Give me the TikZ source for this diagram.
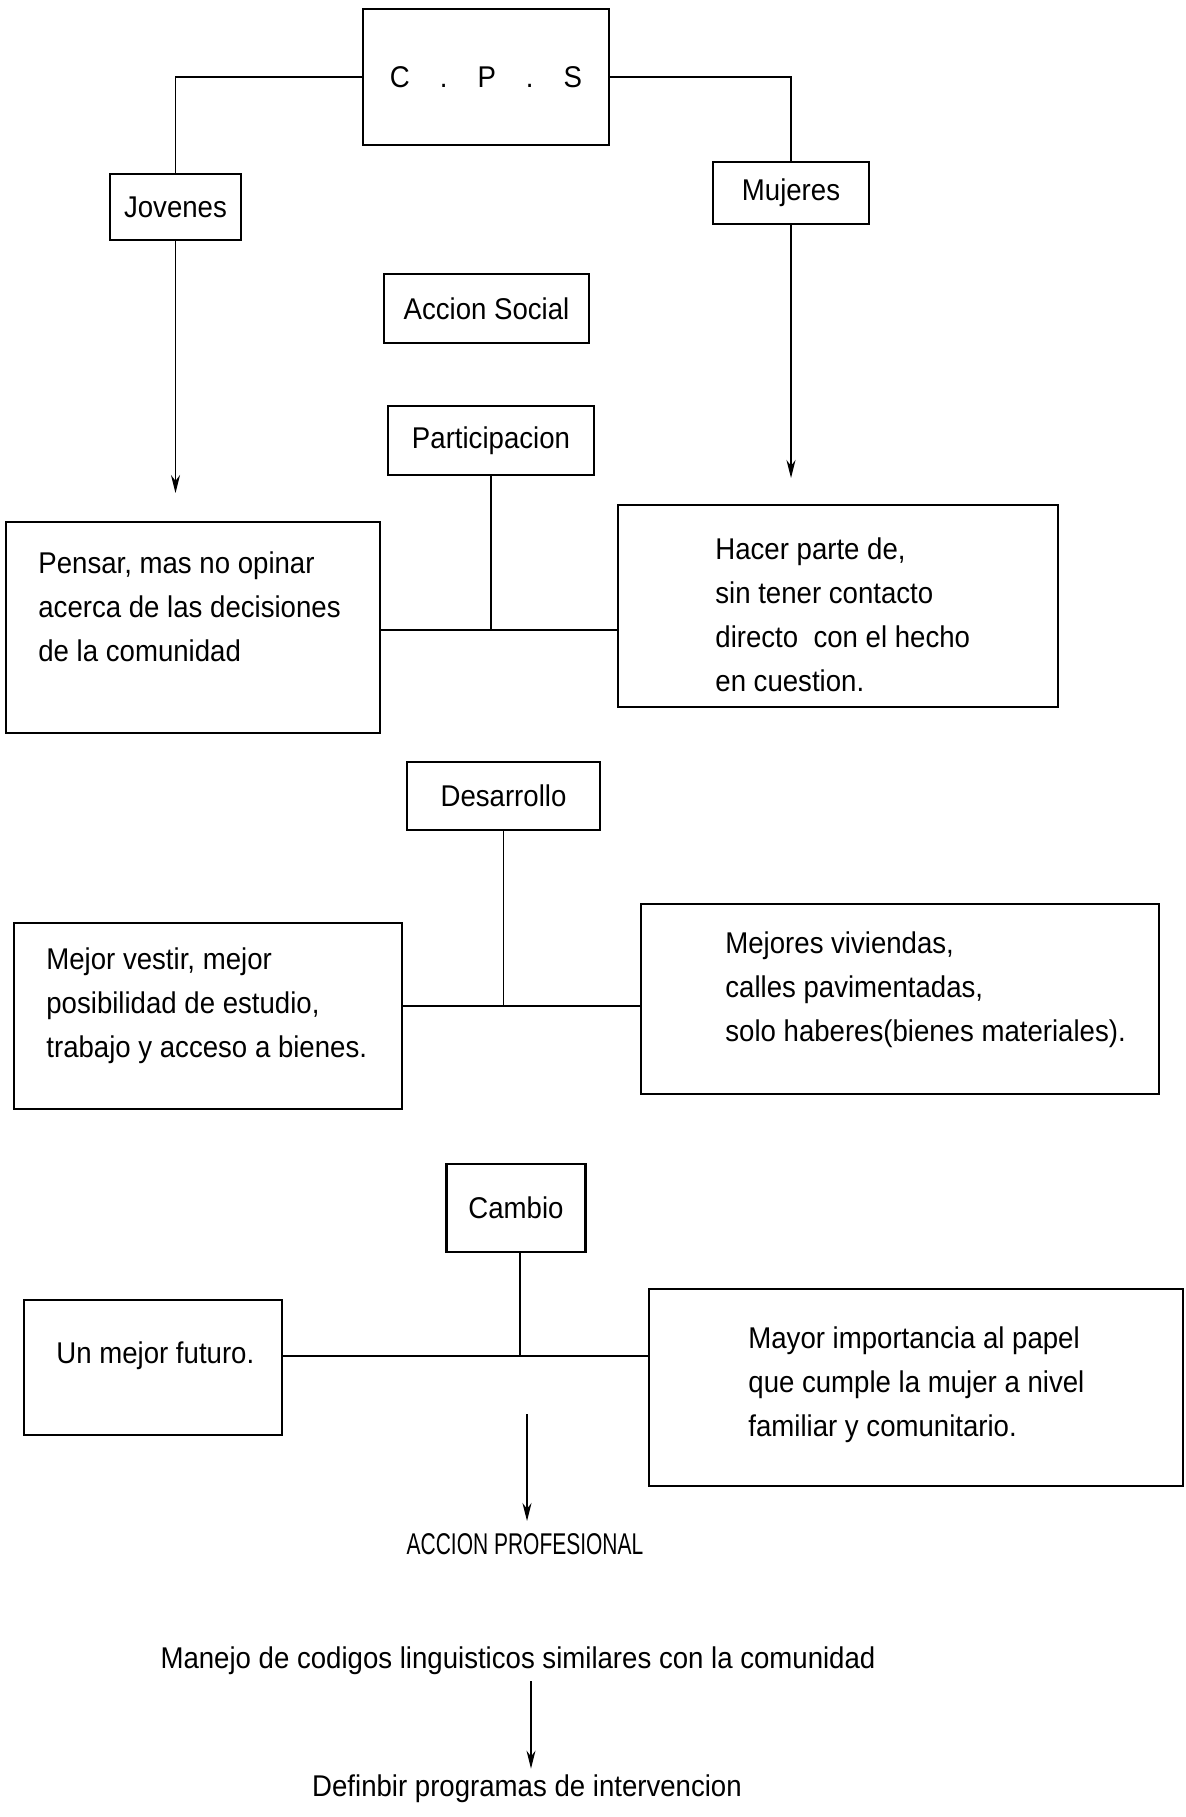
\documentclass[tikz,border=0pt]{standalone}
\usepackage{fontspec}
\setmainfont[FakeStretch=0.92]{Liberation Sans}
\usepackage{graphicx}
\usetikzlibrary{arrows.meta}
\begin{document}
\begin{tikzpicture}[x=0.5pt,y=-0.5pt,
  box/.style={draw, line width=1.1pt, inner sep=0pt},
  lbl/.style={font=\fontsize{15}{22}\selectfont},
  txt/.style={font=\fontsize{15}{22}\selectfont, align=left, anchor=west, inner sep=0pt},
  conn/.style={line width=0.7pt},
  arr/.style={conn, -{Stealth[length=9pt,width=4.5pt]}}]
\useasboundingbox (0,0) rectangle (1186,1817);

% top level
\node[box, lbl, minimum width=123pt, minimum height=68pt] (cps) at (486,77) {C\quad.\quad P\quad.\quad S};
\node[box, lbl, minimum width=65.5pt, minimum height=33pt] (jov) at (175.5,207) {Jovenes};
\node[box, lbl, minimum width=78pt, minimum height=31pt] (muj) at (791,193) {Mujeres};
\draw[conn] (cps.west) -| (jov.north);
\draw[conn] (cps.east) -| (muj.north);
\coordinate (jovend) at (175.5,493);
\coordinate (mujend) at (791,478);
\draw[arr] (jov.south) -- (jovend);
\draw[arr] (muj.south) -- (mujend);

\node[box, lbl, minimum width=102.5pt, minimum height=34.5pt] (acc) at (486.5,308.5) {Accion Social};

% Participacion
\node[box, lbl, minimum width=103pt, minimum height=34.5pt] (part) at (491,440.5) {Participacion};
\node[box, minimum width=187pt, minimum height=105.5pt] (pensar) at (193,627.5) {};
\node[txt] (pensarT) at (38,607) {Pensar, mas no opinar\\acerca de las decisiones\\de la comunidad};
\node[box, minimum width=220pt, minimum height=101pt] (hacer) at (838,606) {};
\node[txt] (hacerT) at (715,614.5) {Hacer parte de,\\sin tener contacto\\directo\ \ con el hecho\\en cuestion.};
\coordinate (j1) at (491,630);
\draw[conn] (part.south) -- (j1);
\draw[conn] (pensar.east |- j1) -- (hacer.west |- j1);

% Desarrollo
\node[box, lbl, minimum width=96.5pt, minimum height=34pt] (des) at (503.5,796) {Desarrollo};
\node[box, minimum width=194pt, minimum height=93pt] (vestir) at (208,1016) {};
\node[txt] (vestirT) at (46,1005.5) {Mejor vestir, mejor\\posibilidad de estudio,\\trabajo y acceso a bienes.};
\node[box, minimum width=259pt, minimum height=95pt] (viv) at (900,999) {};
\node[txt] (vivT) at (725,989.5) {Mejores viviendas,\\calles pavimentadas,\\solo haberes(bienes materiales).};
\coordinate (j2) at (503.5,1006);
\draw[conn] (des.south) -- (j2);
\draw[conn] (vestir.east |- j2) -- (viv.west |- j2);

% Cambio
\node[box, lbl, minimum width=69.5pt, minimum height=44pt] (cam) at (516,1208) {Cambio};
\node[box, minimum width=129pt, minimum height=67.5pt] (fut) at (153,1367.5) {};
\node[txt] (futT) at (56,1356) {Un mejor futuro.};
\node[box, minimum width=267pt, minimum height=98.5pt] (may) at (916,1387.5) {};
\node[txt] (mayT) at (748,1384.5) {Mayor importancia al papel\\que cumple la mujer a nivel\\familiar y comunitario.};
\coordinate (j3) at (520,1356);
\draw[conn] (cam.south -| j3) -- (j3);
\draw[conn] (fut.east |- j3) -- (may.west |- j3);

% bottom
\coordinate (a1) at (527,1414);
\node[lbl, inner sep=0pt] (prof) at (525,1544) {\scalebox{0.76}[1]{ACCION PROFESIONAL}};
\draw[arr, shorten >=6pt] (a1) -- (a1 |- prof.north);
\node[lbl, inner sep=0pt] (man) at (518,1661) {Manejo de codigos linguisticos similares con la comunidad};
\node[lbl, inner sep=0pt] (def) at (527,1789) {Definbir programas de intervencion};
\coordinate (a3) at (531,1700);
\draw[arr, shorten <=3pt, shorten >=3pt] (man.south -| a3) -- (def.north -| a3);
\end{tikzpicture}
\end{document}
